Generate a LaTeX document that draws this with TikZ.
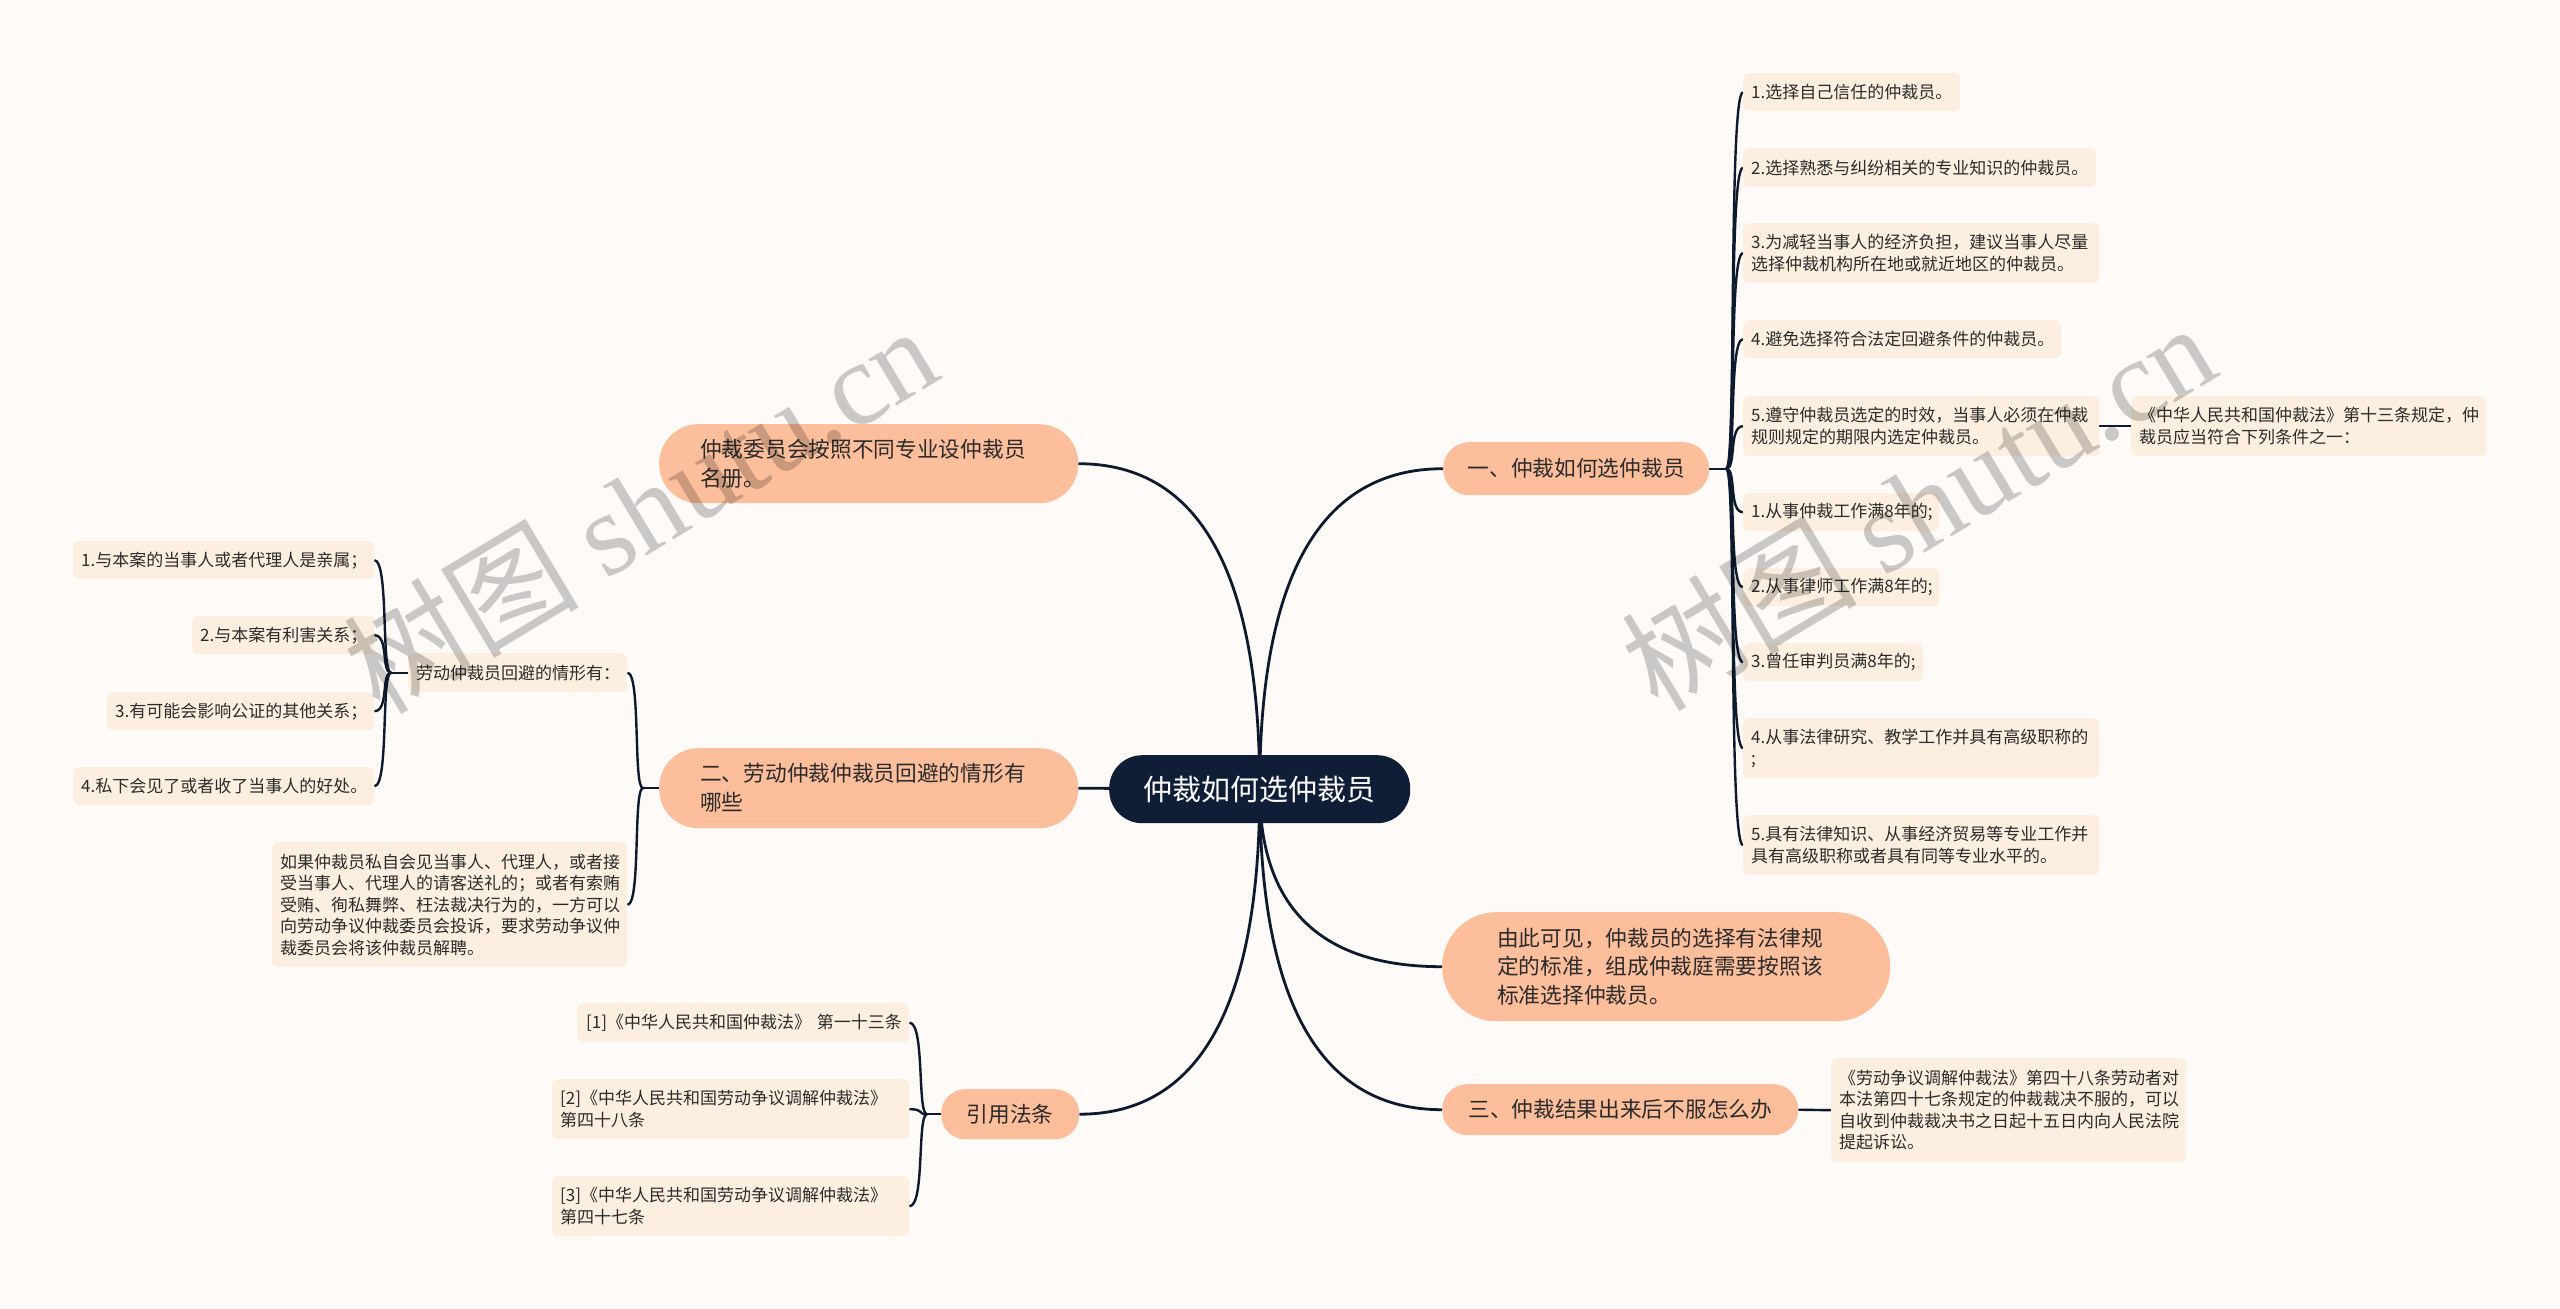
\documentclass[tikz,border=0pt]{standalone}
\usepackage{fontspec}
\setmainfont{Noto Sans CJK SC}
\newfontfamily\wmlatin{Liberation Serif}
\usetikzlibrary{calc,backgrounds}
\definecolor{bgc}{HTML}{FDFAF8}
\definecolor{pillc}{HTML}{FDBE9C}
\definecolor{leafc}{HTML}{FDEFE0}
\definecolor{centerc}{HTML}{0F1E36}
\definecolor{linec}{HTML}{0D1A2E}
\definecolor{textc}{HTML}{2B2B2B}
\tikzset{
  leaf/.style={fill=leafc, rounded corners=6pt, anchor=north west, align=left,
    inner xsep=8pt, inner ysep=0pt, text=textc, font=\fontsize{17}{21.5}\selectfont},
  pill/.style={fill=pillc, anchor=north west, inner ysep=0pt, text=textc,
    font=\fontsize{21.7}{29}\selectfont},
  mainline/.style={draw=linec, line width=2.8pt},
  subline/.style={draw=linec, line width=2.4pt},
  qcurve/.style={to path={.. controls ($(\tikztostart)!0.667!(\tikztostart|-\tikztotarget)$) and ($(\tikztotarget)!0.667!(\tikztostart|-\tikztotarget)$) .. (\tikztotarget)}},
  rcurve/.style={to path={.. controls ($(\tikztostart)+(10,0)$) and ($(\tikztostart|-\tikztotarget)+(2,0)$) .. (\tikztotarget)}},
  lcurve/.style={to path={.. controls ($(\tikztostart)+(-10,0)$) and ($(\tikztostart|-\tikztotarget)+(-2,0)$) .. (\tikztotarget)}},
  wmark/.style={rotate=31, text=black, text opacity=0.2, font=\fontsize{118}{118}\selectfont}
}
\begin{document}
\begin{tikzpicture}[x=1pt,y=-1pt]
\useasboundingbox (0,0) rectangle (2560,1309);

% center
\node[fill=centerc, text=white, rounded corners=33pt, minimum width=301, minimum height=68,
  inner ysep=0pt, font=\fontsize{29}{34}\selectfont, anchor=north west] (C) at (1109,755) {仲裁如何选仲裁员};

% right main branches
\node[pill, rounded corners=26pt, minimum width=266, minimum height=53] (B1) at (1443,442) {一、仲裁如何选仲裁员};
\node[pill, rounded corners=54pt, minimum width=448, minimum height=109, inner xsep=55pt, text width=338, align=left,
  font=\fontsize{21.7}{28.5}\selectfont] (B2) at (1442,912) {由此可见，仲裁员的选择有法律规\\定的标准，组成仲裁庭需要按照该\\标准选择仲裁员。};
\node[pill, rounded corners=25pt, minimum width=356, minimum height=51] (B3) at (1442,1084) {三、仲裁结果出来后不服怎么办};

% left main branches
\node[pill, rounded corners=39pt, minimum width=419, minimum height=79, inner xsep=41pt, text width=337, align=left] (L1) at (659,424) {仲裁委员会按照不同专业设仲裁员\\名册。};
\node[pill, rounded corners=39pt, minimum width=419, minimum height=80, inner xsep=41pt, text width=337, align=left] (L2) at (659,748) {二、劳动仲裁仲裁员回避的情形有\\哪些};
\node[pill, rounded corners=24pt, minimum width=138, minimum height=50] (L3) at (941,1089) {引用法条};

% right leaves
\node[leaf, minimum width=217, minimum height=38, text width=201] (R1) at (1743,73) {1.选择自己信任的仲裁员。};
\node[leaf, minimum width=353, minimum height=39, text width=337] (R2) at (1743,148) {2.选择熟悉与纠纷相关的专业知识的仲裁员。};
\node[leaf, minimum width=356, minimum height=60, text width=340] (R3) at (1743,223) {3.为减轻当事人的经济负担，建议当事人尽量\\选择仲裁机构所在地或就近地区的仲裁员。};
\node[leaf, minimum width=318, minimum height=38, text width=302] (R4) at (1743,320) {4.避免选择符合法定回避条件的仲裁员。};
\node[leaf, minimum width=356, minimum height=60, text width=340] (R5) at (1743,396) {5.遵守仲裁员选定的时效，当事人必须在仲裁\\规则规定的期限内选定仲裁员。};
\node[leaf, minimum width=355, minimum height=60, text width=339] (R5c) at (2131,396) {《中华人民共和国仲裁法》第十三条规定，仲\\裁员应当符合下列条件之一：};
\node[leaf, minimum width=196, minimum height=38, text width=180] (R6) at (1743,493) {1.从事仲裁工作满8年的;};
\node[leaf, minimum width=196, minimum height=38, text width=180] (R7) at (1743,568) {2.从事律师工作满8年的;};
\node[leaf, minimum width=180, minimum height=38, text width=164] (R8) at (1743,643) {3.曾任审判员满8年的;};
\node[leaf, minimum width=356, minimum height=60, text width=340] (R9) at (1743,718) {4.从事法律研究、教学工作并具有高级职称的\\;};
\node[leaf, minimum width=356, minimum height=60, text width=340] (R10) at (1743,815) {5.具有法律知识、从事经济贸易等专业工作并\\具有高级职称或者具有同等专业水平的。};

\node[leaf, minimum width=355, minimum height=104, text width=339] (B3c) at (1831,1058) {《劳动争议调解仲裁法》第四十八条劳动者对\\本法第四十七条规定的仲裁裁决不服的，可以\\自收到仲裁裁决书之日起十五日内向人民法院\\提起诉讼。};

% left leaves
\node[leaf, minimum width=219, minimum height=39, text width=203] (LL1) at (408,653) {劳动仲裁员回避的情形有：};
\node[leaf, minimum width=355, minimum height=125, text width=339] (LL2) at (272,842) {如果仲裁员私自会见当事人、代理人，或者接\\受当事人、代理人的请客送礼的；或者有索贿\\受贿、徇私舞弊、枉法裁决行为的，一方可以\\向劳动争议仲裁委员会投诉，要求劳动争议仲\\裁委员会将该仲裁员解聘。};
\node[leaf, minimum width=301, minimum height=38, text width=285] (A1) at (73,541) {1.与本案的当事人或者代理人是亲属；};
\node[leaf, minimum width=182, minimum height=38, text width=166] (A2) at (192,616) {2.与本案有利害关系；};
\node[leaf, minimum width=267, minimum height=38, text width=251] (A3) at (107,692) {3.有可能会影响公证的其他关系；};
\node[leaf, minimum width=301, minimum height=38, text width=285] (A4) at (73,767) {4.私下会见了或者收了当事人的好处。};

\node[leaf, minimum width=332, minimum height=39, text width=314, inner xsep=9pt] (Cc1) at (577,1003) {\mbox{[1]《中华人民共和国仲裁法》\ 第一十三条}};
\node[leaf, minimum width=357, minimum height=60, text width=341] (Cc2) at (552,1079) {[2]《中华人民共和国劳动争议调解仲裁法》\\第四十八条};
\node[leaf, minimum width=357, minimum height=60, text width=341] (Cc3) at (552,1176) {[3]《中华人民共和国劳动争议调解仲裁法》\\第四十七条};

% junctions
\coordinate (J1) at ($(B1.east)+(17,0)$);
\coordinate (JL) at ($(L2.west)+(-16,0)$);
\coordinate (JA) at ($(LL1.west)+(-17,0)$);
\coordinate (JC) at ($(L3.west)+(-14,0)$);

\begin{scope}[on background layer]
\fill[bgc] (0,0) rectangle (2560,1309);
\draw[mainline] (C.center) to[qcurve] (B1.west);
\draw[mainline] (C.center) to[qcurve] (L1.east);
\draw[mainline] (C.center) -- (L2.east);
\draw[mainline] (C.center) to[qcurve] (B2.west);
\draw[mainline] (C.center) to[qcurve] (B3.west);
\draw[mainline] (C.center) to[qcurve] (L3.east);

\draw[subline] (B1.east) -- (J1);
\foreach \n in {R1,R2,R3,R4,R5,R6,R7,R8,R9,R10} \draw[subline] (J1) to[rcurve] (\n.west);
\draw[subline] (R5.east) -- (R5c.west);
\draw[subline] (B3.east) -- (B3c.west);

\draw[subline] (L2.west) -- (JL);
\foreach \n in {LL1,LL2} \draw[subline] (JL) to[lcurve] (\n.east);
\draw[subline] (LL1.west) -- (JA);
\foreach \n in {A1,A2,A3,A4} \draw[subline] (JA) to[lcurve] (\n.east);
\draw[subline] (L3.west) -- (JC);
\foreach \n in {Cc1,Cc2,Cc3} \draw[subline] (JC) to[lcurve] (\n.east);
\end{scope}

% watermarks
\node[wmark] (W1) at (640,508) {树图 {\wmlatin shutu.cn}};
\node[wmark] (W2) at (1918,505) {树图 {\wmlatin shutu.cn}};
\end{tikzpicture}
\end{document}
